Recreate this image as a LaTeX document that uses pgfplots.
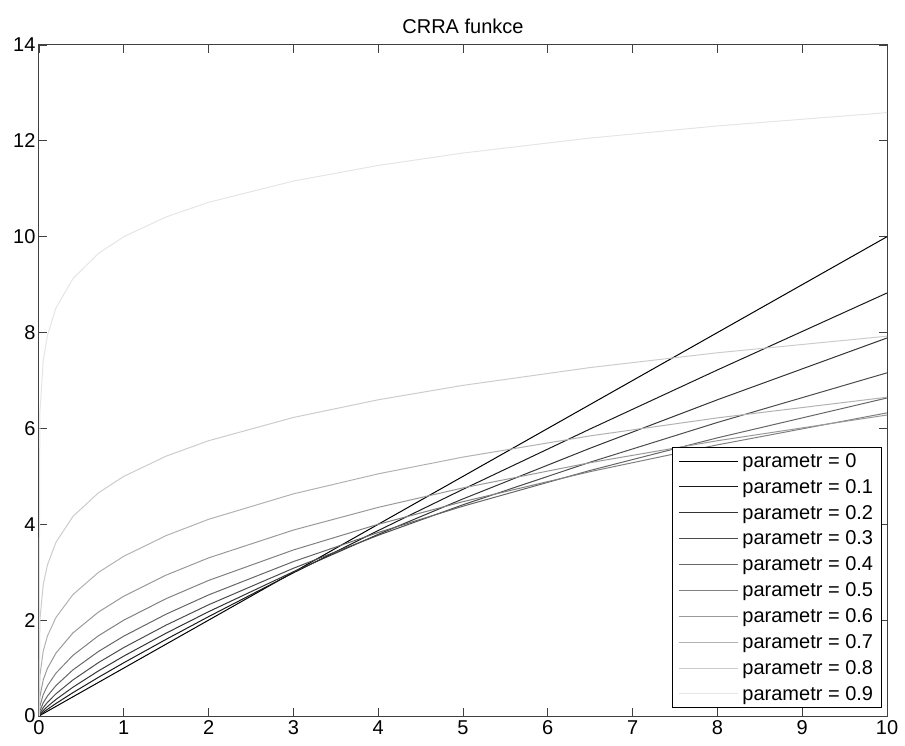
\documentclass[border=0pt]{standalone}
\usepackage{pgfplots}
\usepackage{pgfplotstable}
\pgfplotsset{compat=1.18}
\usepackage{fontspec}
\setmainfont{Liberation Sans}

\pgfplotstableread{
x     g0   g1      g2      g3      g4      g5      g6      g7      g8      g9
0     0    0       0       0       0       0       0       0       0       0
0.01  0.01 0.01761 0.03140 0.05687 0.10516 0.2     0.39622 0.83730 1.99054 6.30957
0.05  0.05 0.07496 0.11379 0.17546 0.27621 0.44721 0.75427 1.35697 2.74641 7.41134
0.1   0.1  0.13988 0.19811 0.28504 0.41865 0.63246 0.99527 1.67062 3.15479 7.94328
0.2   0.2  0.26102 0.34494 0.46304 0.63455 0.89443 1.31327 2.05678 3.62390 8.51340
0.4   0.4  0.48709 0.60056 0.75221 0.96180 1.26491 1.73286 2.53219 4.16277 9.12444
0.7   0.7  0.80603 0.93971 1.11296 1.34560 1.67332 2.16760 2.99507 4.65574 9.64961
1     1    1.11111 1.25    1.42857 1.66667 2       2.5     3.33333 5       10
1.5   1.5  1.60042 1.72894 1.89743 2.12570 2.44949 2.94020 3.76447 5.42236 10.41380
2     2    2.07341 2.17638 2.32071 2.52619 2.82843 3.29877 4.10381 5.74349 10.71773
3     3    2.98652 3.01028 3.08237 3.22197 3.46410 3.87962 4.63463 6.22866 11.16123
4     4    3.86911 3.78929 3.77003 3.82900 4       4.35275 5.05239 6.59754 11.48698
5     5    4.72981 4.52988 4.40737 4.37755 4.47214 4.75913 5.40219 6.89864 11.74619
6.5   6.5  5.98937 5.58780 5.29591 5.12385 5.09902 5.28573 5.84458 7.27031 12.05849
8     8    7.22003 6.59754 6.12441 5.80367 5.65685 5.74350 6.22023 7.57858 12.31144
10    10   8.82587 7.88696 7.15982 6.63512 6.32456 6.27972 6.65088 7.92447 12.58925
}\crra

\begin{document}
\begin{tikzpicture}
\useasboundingbox (-39pt,-29pt) rectangle (866pt,716pt);
\begin{axis}[
  at={(0pt,0pt)}, anchor=south west,
  scale only axis, width=848pt, height=671pt,
  xmin=0, xmax=10, ymin=0, ymax=14,
  xtick={0,1,...,10}, ytick={0,2,...,14},
  tick align=inside, major tick length=8pt,
  axis line style={line width=1pt, black!75},
  every tick/.style={black!75, line width=0.8pt},
  tick label style={font=\fontsize{20}{22}\selectfont},
  /pgf/number format/assume math mode=true,
  yticklabel style={xshift=0pt},
  xticklabel style={yshift=-1pt},
  title={CRRA funkce},
  title style={font=\fontsize{20}{22}\selectfont, yshift=2pt},
  legend cell align=left,
  legend style={at={(0.9941,0.0119)}, anchor=south east,
    font=\fontsize{20}{24}\selectfont, draw=black, line width=0.8pt,
    row sep=6.4pt, inner ysep=4pt, inner xsep=6.5pt},
  legend image code/.code={\draw[#1] (8pt,0pt) -- (67pt,0pt); \path (69pt,0pt);},
  every axis plot/.append style={line width=1pt},
]
\addplot[black!100, no marks] table[x=x,y=g0] {\crra};
\addplot[black!90, no marks] table[x=x,y=g1] {\crra};
\addplot[black!80, no marks] table[x=x,y=g2] {\crra};
\addplot[black!70, no marks] table[x=x,y=g3] {\crra};
\addplot[black!60, no marks] table[x=x,y=g4] {\crra};
\addplot[black!50, no marks] table[x=x,y=g5] {\crra};
\addplot[black!40, no marks] table[x=x,y=g6] {\crra};
\addplot[black!30, no marks] table[x=x,y=g7] {\crra};
\addplot[black!20, no marks] table[x=x,y=g8] {\crra};
\addplot[black!10, no marks] table[x=x,y=g9] {\crra};
\legend{parametr = 0, parametr = 0.1, parametr = 0.2, parametr = 0.3, parametr = 0.4, parametr = 0.5, parametr = 0.6, parametr = 0.7, parametr = 0.8, parametr = 0.9}
\end{axis}
\end{tikzpicture}
\end{document}
